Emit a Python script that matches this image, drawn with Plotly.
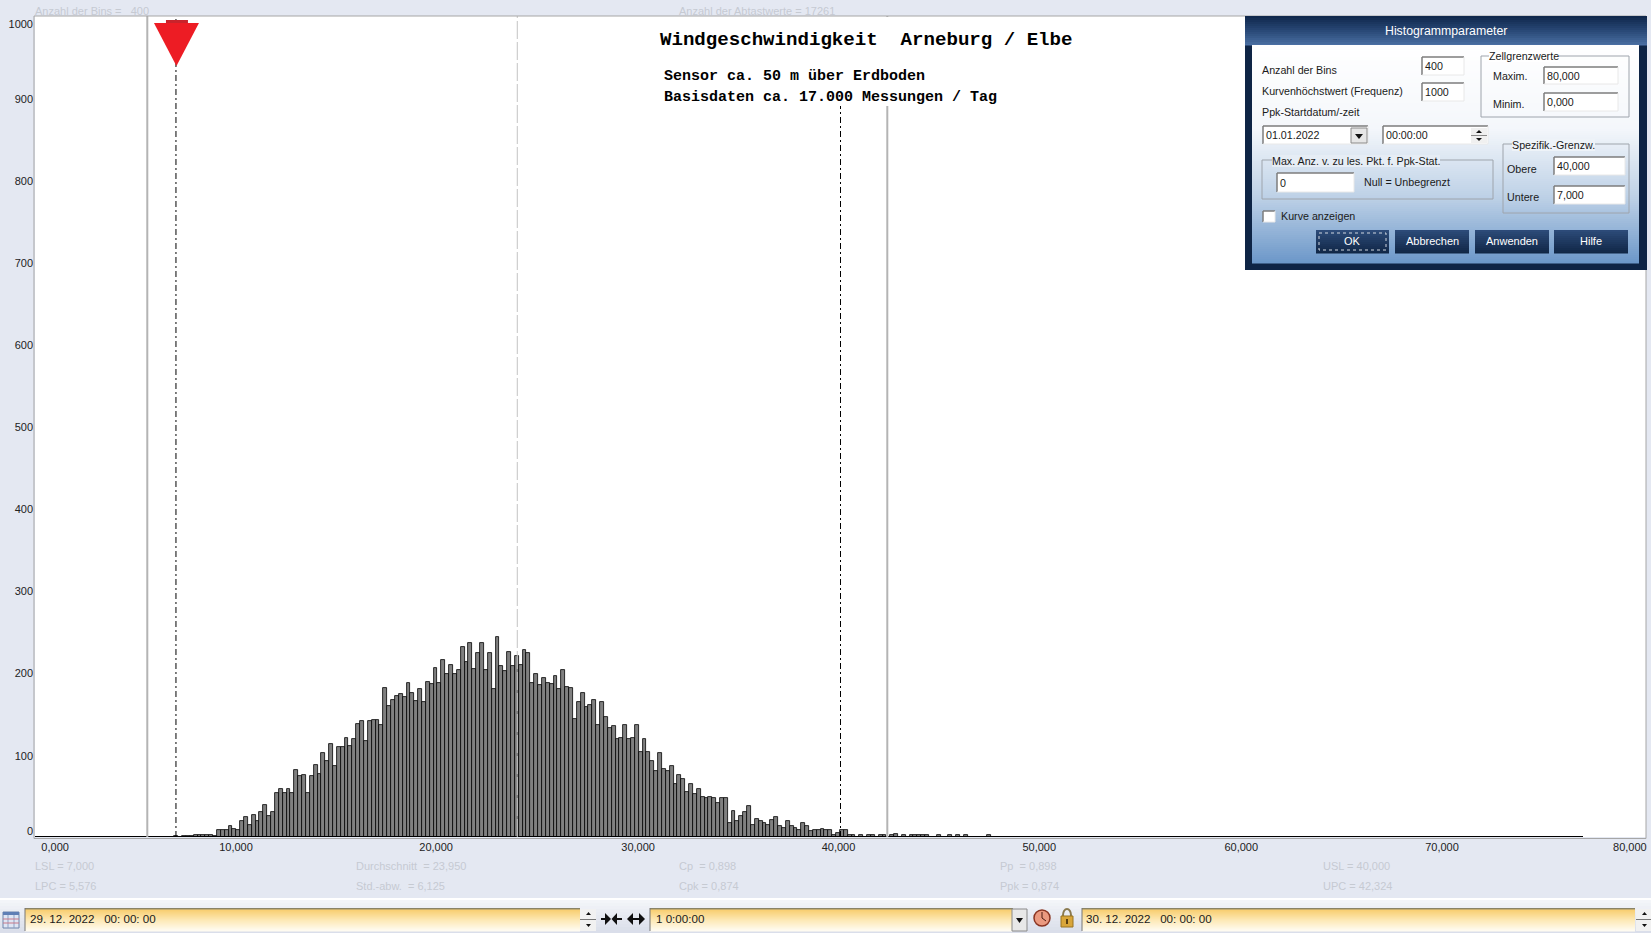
import plotly.graph_objects as go

W, H = 1651, 933

# ---- data -------------------------------------------------------------
bin_counts = (
    [0] * 36 + [1, 0, 1, 1, 1, 3, 2, 2, 2, 2, 1]
    + [8, 8, 9, 13, 10, 9, 19, 24, 15, 27,
       19, 31, 39, 25, 31, 54, 59, 54, 58, 53,
       82, 74, 75, 53, 74, 88, 77, 102, 93, 113,
       86, 110, 110, 121, 111, 119, 138, 141, 117, 141,
       143, 143, 136, 181, 159, 167, 172, 174, 170, 187,
       175, 166, 180, 164, 189, 186, 206, 188, 216, 199,
       210, 198, 204, 232, 213, 236, 205, 224, 236, 204,
       224, 180, 244, 208, 202, 225, 208, 220, 209]
    + [228, 224, 188, 199, 185, 194, 187, 186, 196, 180,
       203, 183, 181, 144, 164, 175, 158, 161, 167, 137,
       165, 146, 133, 135, 119, 121, 136, 119, 121, 137,
       103, 119, 104, 92, 81, 102, 83, 80, 87, 64,
       75, 71, 55, 64, 52, 58, 49, 47, 49, 47,
       42, 48, 48, 17, 32, 20, 25, 31, 38, 15,
       22, 20, 17, 15, 21, 24, 14, 11, 20, 14,
       11, 9, 17, 13, 7, 9, 9]
    + [10, 8, 8, 3, 5, 9, 9, 3, 3, 0, 3, 0, 2, 2, 0, 3, 2, 0, 2, 4, 0, 3, 0,
       3, 3, 2, 2, 3, 0, 0, 2, 0, 0, 2, 0, 2, 0, 3, 0, 0, 0, 0, 0, 2]
)
BIN_TOTAL = 400
LSL, USL, MEAN, LPC, UPC = 7.0, 40.0, 23.95, 5.576, 42.324
FREQ_MAX = 1000
X_MAX = 80

x_tick_pos = [1.0, 9.98, 19.92, 29.95, 39.9, 49.87, 59.9, 69.87, 79.2]
x_tick_text = ["0,000", "10,000", "20,000", "30,000", "40,000", "50,000", "60,000", "70,000", "80,000"]
y_tick_pos = [7, 99, 199, 299, 399, 499, 599, 699, 799, 899, 990]
y_tick_text = ["0", "100", "200", "300", "400", "500", "600", "700", "800", "900", "1000"]

title_main = "Windgeschwindigkeit\u00a0\u00a0Arneburg / Elbe"
title_sub1 = "Sensor ca. 50 m über Erdboden"
title_sub2 = "Basisdaten ca. 17.000 Messungen / Tag"

stats = [
    (35, 11, "Anzahl der Bins =\u00a0\u00a0\u00a0400"),
    (679, 11, "Anzahl der Abtastwerte = 17261"),
    (35, 866, "LSL = 7,000"), (35, 886, "LPC = 5,576"),
    (356, 866, "Durchschnitt\u00a0\u00a0= 23,950"), (356, 886, "Std.-abw.\u00a0\u00a0= 6,125"),
    (679, 866, "Cp\u00a0\u00a0= 0,898"), (679, 886, "Cpk = 0,874"),
    (1000, 866, "Pp\u00a0\u00a0= 0,898"), (1000, 886, "Ppk = 0,874"),
    (1323, 866, "USL = 40,000"), (1323, 886, "UPC = 42,324"),
]

# ---- geometry of the window ------------------------------------------
PL, PR, PT, PB = 35, 1646, 16, 837
BG = "#e4e8f2"
SANS = "Liberation Sans"
MONO = "Liberation Mono"
UI = 10.7


def px(x):
    return x / W


def py(y):
    return 1 - y / H


shapes, notes = [], []


def rect(x0, y0, x1, y1, fill=None, line=None, lw=1, dash=None):
    ln = dict(width=lw if line else 0)
    if line:
        ln["color"] = line
    if dash:
        ln["dash"] = dash
    s = dict(type="rect", xref="paper", yref="paper", x0=px(x0), x1=px(x1), y0=py(y0), y1=py(y1),
             line=ln, layer="above")
    if fill:
        s["fillcolor"] = fill
    shapes.append(s)


def seg(x0, y0, x1, y1, color, lw=1):
    shapes.append(dict(type="line", xref="paper", yref="paper", x0=px(x0), x1=px(x1), y0=py(y0), y1=py(y1),
                       line=dict(color=color, width=lw), layer="above"))


def poly(points, fill, line=None):
    p = "M " + " L ".join(f"{px(a):.5f},{py(b):.5f}" for a, b in points) + " Z"
    shapes.append(dict(type="path", xref="paper", yref="paper", path=p, fillcolor=fill,
                       line=dict(width=1 if line else 0, color=line or fill), layer="above"))


def hexrgb(c):
    return tuple(int(c[i:i + 2], 16) for i in (1, 3, 5))


def grad(x0, y0, x1, y1, stops, step=2):
    y = y0
    while y < y1:
        ny = min(y + step, y1)
        t = (y - y0) / (y1 - y0)
        for (a, ca), (b, cb) in zip(stops, stops[1:]):
            if a <= t <= b:
                f = (t - a) / (b - a) if b > a else 0
                r = [round(u + (v - u) * f) for u, v in zip(hexrgb(ca), hexrgb(cb))]
                rect(x0, y, x1, ny + 0.5, fill=f"rgb({r[0]},{r[1]},{r[2]})")
                break
        y = ny


def text(x, y, s, size=UI, color="#1a1a1a", anchor="left", family=SANS, bg=None, bold=False):
    t = f"<b>{s}</b>" if bold else s
    n = dict(xref="paper", yref="paper", x=px(x), y=py(y), text=t, showarrow=False, xanchor=anchor,
             yanchor="middle", font=dict(size=size, color=color, family=family), borderpad=0, borderwidth=0)
    if bg:
        n["bgcolor"] = bg
    notes.append(n)


def field(x0, y0, x1, y1, s=None, tx=None):
    rect(x0, y0, x1, y1, fill="#ffffff")
    seg(x0, y0, x1, y0, "#7d7d7d", 1.5)
    seg(x0, y0, x0, y1, "#7d7d7d", 1.5)
    seg(x1, y0, x1, y1, "#e8e8e8", 1)
    seg(x0, y1, x1, y1, "#e8e8e8", 1)
    if s is not None:
        text(tx if tx else x0 + 3, (y0 + y1) / 2, s, UI)


# plot frame (drawn under the dialog)
rect(PL - 1, PT, PR, PB + 1.5, line="#a6a6a6", lw=1)

# statistics in pale grey
for sx, sy, st in stats:
    text(sx, sy, st, 11, "#c6cad2")

# titles sit on a white block that hides the limit lines behind them
rect(655, 17, 1010, 106, fill="#ffffff")
text(660, 40, title_main, 19.1, "#000000", family=MONO, bold=True)
text(664, 77, title_sub1, 15, "#000000", family=MONO, bold=True)
text(664, 97.5, title_sub2, 15, "#000000", family=MONO, bold=True)

# LSL marker: triangle anchored on the LSL value
shapes.append(dict(type="path", xref="x2", yref="paper", xsizemode="pixel", ysizemode="pixel",
                   xanchor=LSL, yanchor=py(0), layer="above", fillcolor="#ed1c24",
                   path="M -22,-23 L 23,-23 L 0.5,-66 Z", line=dict(width=0)))
shapes.append(dict(type="path", xref="x2", yref="paper", xsizemode="pixel", ysizemode="pixel",
                   xanchor=LSL, yanchor=py(0), layer="above", fillcolor="#c9232b",
                   path="M -10,-20 L 12,-20 L 12,-23 L -10,-23 Z", line=dict(width=0)))

# ---- dialog ----------------------------------------------------------
rect(1245, 16, 1647, 270, fill="#0e2445")
grad(1245, 16, 1647, 45, [(0, "#10284d"), (0.5, "#2a4a78"), (1, "#4d72a6")])
grad(1252, 45, 1639, 263, [(0, "#ffffff"), (0.38, "#f4f7fb"), (0.7, "#bcd0e6"), (1, "#6a96c8")])
text(1446, 31, "Histogrammparameter", 12.3, "#ffffff", "center")

text(1262, 70, "Anzahl der Bins")
text(1262, 91, "Kurvenhöchstwert (Frequenz)")
text(1262, 112, "Ppk-Startdatum/-zeit")
field(1422, 57, 1464, 75, "400")
field(1422, 83, 1464, 101, "1000")

rect(1481, 56, 1629, 117, line="#9ea4ac")
text(1489, 56, "Zellgrenzwerte", bg="#ffffff")
text(1493, 76, "Maxim.")
text(1493, 104, "Minim.")
field(1544, 67, 1618, 84, "80,000")
field(1544, 93, 1618, 111, "0,000")

field(1263, 126, 1368, 144, "01.01.2022")
rect(1351, 128, 1367, 143, fill="#e6e6e6", line="#8a8a8a")
poly([(1355, 134), (1363, 134), (1359, 139)], "#111111")
field(1383, 126, 1488, 144, "00:00:00")
rect(1471, 128, 1487, 143, fill="#f0f0f0")
seg(1471, 135.5, 1487, 135.5, "#8a8a8a")
poly([(1476, 133), (1482, 133), (1479, 130)], "#111111")
poly([(1476, 138), (1482, 138), (1479, 141)], "#111111")

rect(1262, 160, 1493, 199, line="#9ea4ac")
text(1272, 161, "Max. Anz. v. zu les. Pkt. f. Ppk-Stat.", bg="#e6edf5")
field(1277, 173, 1354, 192, "0")
text(1364, 182, "Null = Unbegrenzt")

rect(1503, 144, 1629, 213, line="#9ea4ac")
text(1512, 145, "Spezifik.-Grenzw.", bg="#eef3f8")
text(1507, 169, "Obere")
text(1507, 197, "Untere")
field(1554, 157, 1625, 175, "40,000")
field(1554, 186, 1625, 204, "7,000")

field(1263, 211, 1275, 222)
text(1281, 216, "Kurve anzeigen")

for bx0, bx1, lab in [(1316, 1389, "OK"), (1395, 1469, "Abbrechen"), (1475, 1549, "Anwenden"), (1554, 1628, "Hilfe")]:
    grad(bx0, 230, bx1, 253, [(0, "#2c4a78"), (1, "#0f2544")])
    text((bx0 + bx1) / 2, 241.5, lab, 11, "#ffffff", "center")
rect(1319, 233, 1386, 250, line="#d0d6e0", dash="dot")

# ---- bottom bar ------------------------------------------------------
rect(0, 898, W, 900, fill="#ffffff")
grad(0, 900, W, H, [(0, "#f3f5f9"), (1, "#d7dce8")], 3)
YEL = [(0, "#8a8468"), (0.08, "#f8cf73"), (0.5, "#fde8b4"), (1, "#fffdf6")]
grad(25, 908, 580, 931, YEL, 1)
grad(650, 908, 1013, 931, YEL, 1)
grad(1082, 908, 1635, 931, YEL, 1)
seg(25, 908, 25, 931, "#777777")
seg(650, 908, 650, 931, "#777777")
seg(1082, 908, 1082, 931, "#777777")
text(30, 918, "29. 12. 2022\u00a0\u00a0\u00a000: 00: 00", 11.6)
text(656, 918, "1 0:00:00", 11.6)
text(1086, 918, "30. 12. 2022\u00a0\u00a0\u00a000: 00: 00", 11.6)

for sx in (580, 1636):
    rect(sx, 909, sx + 16, 931, fill="#f1f1f1")
    seg(sx, 919.5, sx + 16, 919.5, "#777777")
    poly([(sx + 6, 915), (sx + 11, 915), (sx + 8.5, 912)], "#111111")
    poly([(sx + 6, 924), (sx + 11, 924), (sx + 8.5, 927)], "#111111")
rect(1012, 909, 1027, 931, fill="#e8e8e8", line="#8a8a8a")
poly([(1016, 918), (1023, 918), (1019.5, 923)], "#111111")

# calendar icon
rect(3, 912, 19, 928, fill="#dfe6f4", line="#6f84aa")
rect(3, 912, 19, 915, fill="#5f7fb5")
for gx in (8, 14):
    seg(gx, 915, gx, 928, "#8fa2c4")
for gy in (919, 923):
    seg(3, gy, 19, gy, "#c77a8a")

# arrows: inward then outward
AY = 919
seg(601, AY, 606, AY, "#111111", 2)
poly([(605, AY - 6), (611, AY), (605, AY + 6)], "#111111")
poly([(617, AY - 6), (611.5, AY), (617, AY + 6)], "#111111")
seg(616, AY, 622, AY, "#111111", 2)
poly([(633, AY - 6), (627, AY), (633, AY + 6)], "#111111")
seg(632, AY, 640, AY, "#111111", 2)
poly([(639, AY - 6), (645, AY), (639, AY + 6)], "#111111")

# clock icon
shapes.append(dict(type="circle", xref="paper", yref="paper", x0=px(1034), x1=px(1050), y0=py(910), y1=py(926),
                   fillcolor="#eb9a80", line=dict(color="#8a3522", width=1.5), layer="above"))
seg(1042, 918, 1042, 912, "#4a1a10", 1)
seg(1042, 918, 1046, 921, "#4a1a10", 1)
# lock icon
shapes.append(dict(type="circle", xref="paper", yref="paper", x0=px(1063), x1=px(1071), y0=py(909), y1=py(921),
                   line=dict(color="#8a7a50", width=2), layer="above"))
rect(1061, 916, 1073, 927, fill="#d9a63a", line="#9a7520")
rect(1066, 919, 1068, 924, fill="#5a3f10")

# ---- figure ----------------------------------------------------------
bar_x = [i + 0.5 for i in range(len(bin_counts))]

fig = go.Figure()
# bars live on a bin-index axis (400 bins end short of the value axis, as in the source program)
fig.add_trace(go.Bar(x=bar_x, y=bin_counts, width=1, xaxis="x", yaxis="y",
                     marker=dict(color="#808080", line=dict(color="#000000", width=0.8)),
                     showlegend=False, hoverinfo="skip"))
fig.add_trace(go.Scatter(x=[0, BIN_TOTAL], y=[0, 0], xaxis="x", yaxis="y", mode="lines",
                         line=dict(color="#000000", width=2), cliponaxis=False,
                         showlegend=False, hoverinfo="skip"))
# limit lines on the value axis
for val, color, lw, dash in [
    (LPC, "#b4b4b4", 2, "solid"),
    (UPC, "#b4b4b4", 2, "solid"),
    (MEAN, "#c4c4c4", 1, "18px,3px"),
    (LSL, "#000000", 1, "6px,3px,2px,3px"),
    (USL, "#000000", 1, "6px,3px,2px,3px"),
]:
    fig.add_trace(go.Scatter(x=[val, val], y=[0, FREQ_MAX], xaxis="x2", yaxis="y", mode="lines",
                             line=dict(color=color, width=lw, dash=dash),
                             showlegend=False, hoverinfo="skip"))

axfont = dict(family=SANS, size=11, color="#222222")
fig.update_layout(
    width=W, height=H, autosize=False,
    margin=dict(l=0, r=0, t=0, b=0, pad=0),
    paper_bgcolor=BG, plot_bgcolor="#ffffff",
    bargap=0, showlegend=False,
    xaxis=dict(domain=[px(PL), px(PR)], range=[0, (PR - PL) / 3.87], visible=False, fixedrange=True),
    xaxis2=dict(domain=[px(PL), px(PR)], range=[0, X_MAX], overlaying="x", anchor="y", side="bottom",
                tickmode="array", tickvals=x_tick_pos, ticktext=x_tick_text, tickfont=axfont,
                showgrid=False, zeroline=False, showline=False, ticks="", ticklabelstandoff=2, fixedrange=True),
    yaxis=dict(domain=[py(PB), py(PT)], range=[0, FREQ_MAX], tickmode="array", tickvals=y_tick_pos,
               ticktext=y_tick_text, tickfont=axfont, showgrid=False, zeroline=False, showline=False,
               ticks="", ticklabelstandoff=1, fixedrange=True),
    shapes=shapes, annotations=notes,
)

fig.write_html("out.html", config=dict(displayModeBar=False),
               post_script="document.body.style.margin='0';document.body.style.overflow='hidden';"
                           "document.body.style.background='" + BG + "';")
